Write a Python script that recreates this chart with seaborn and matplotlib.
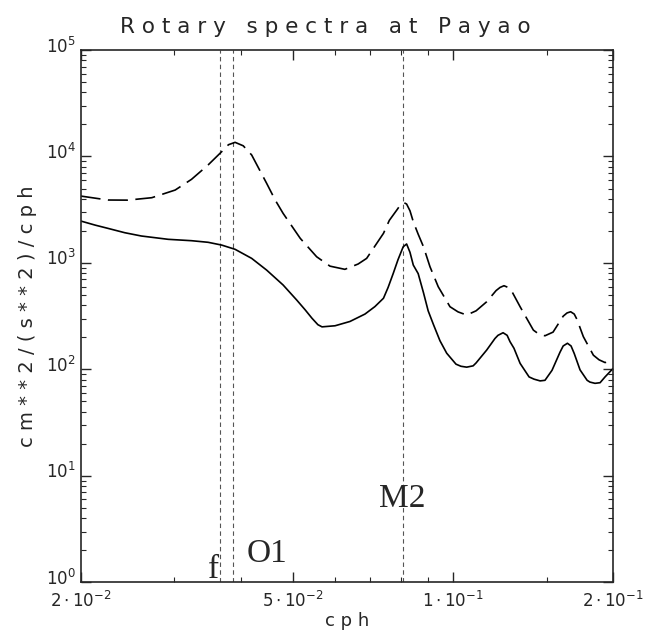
import numpy as np
import pandas as pd
import matplotlib
matplotlib.use("Agg")
import matplotlib.pyplot as plt
import matplotlib.ticker as mticker
import matplotlib.transforms as mtransforms
import seaborn as sns

# ---- data ----
dash_freq = [0.0200, 0.0225, 0.0245, 0.0272, 0.0301, 0.0323, 0.0347, 0.0368, 0.0379,
             0.0390, 0.0404, 0.0419, 0.0447, 0.0464, 0.0480, 0.0517, 0.0555, 0.0588,
             0.0627, 0.0664, 0.0689, 0.0741, 0.0760, 0.0785, 0.0796, 0.0810, 0.0819,
             0.0831, 0.0843, 0.0861, 0.0881, 0.0906, 0.0939, 0.0988, 0.1023, 0.1062,
             0.1106, 0.1158, 0.1206, 0.1227, 0.1248, 0.1270, 0.1292, 0.1338, 0.1417,
             0.1452, 0.1490, 0.1543, 0.1612, 0.1639, 0.1665, 0.1691, 0.1711, 0.1759,
             0.1837, 0.1883, 0.1932, 0.1974, 0.2000]
dash_psd = [4250, 3900, 3890, 4100, 4840, 6100, 8320, 11090, 12900,
            13580, 12600, 10330, 5600, 3890, 2924, 1702, 1143, 933,
            871, 977, 1104, 1897, 2512, 3141, 3467, 3681, 3573,
            3090, 2438, 1862, 1419, 923, 598, 388, 347, 324,
            355, 432, 550, 589, 611, 589, 537, 388, 234,
            214, 207, 224, 316, 339, 348, 331, 295, 203,
            136, 123, 116, 119, 124]

solid_freq = [0.0200, 0.0213, 0.0225, 0.0242, 0.0260, 0.0292, 0.0323, 0.0347, 0.0368,
              0.0390, 0.0419, 0.0447, 0.0480, 0.0509, 0.0528, 0.0544, 0.0558, 0.0568,
              0.0601, 0.0641, 0.0684, 0.0714, 0.0741, 0.0756, 0.0773, 0.0789, 0.0807,
              0.0819, 0.0831, 0.0843, 0.0861, 0.0881, 0.0899, 0.0920, 0.0946, 0.0974,
              0.1014, 0.1036, 0.1062, 0.1092, 0.1106, 0.1158, 0.1200, 0.1216, 0.1243,
              0.1265, 0.1281, 0.1303, 0.1338, 0.1391, 0.1421, 0.1459, 0.1490, 0.1536,
              0.1590, 0.1612, 0.1642, 0.1668, 0.1691, 0.1734, 0.1788, 0.1810, 0.1850,
              0.1891, 0.1932, 0.2000]
solid_psd = [2477, 2265, 2113, 1923, 1791, 1667, 1618, 1563, 1472,
             1343, 1104, 857, 621, 449, 363, 302, 263, 251,
             257, 282, 331, 389, 466, 589, 798, 1072, 1419,
             1507, 1259, 955, 794, 525, 355, 263, 186, 142,
             112, 107, 105, 108, 115, 152, 195, 209, 221,
             209, 182, 158, 114, 85, 81, 78, 79, 98,
             145, 166, 176, 166, 141, 99, 79, 76, 74,
             75, 85, 102]

line_names = ["f", "O1", "M2"]
line_freqs = [0.03654, 0.0387, 0.0805]
label_x = [0.03546, 0.0448, 0.0805]
label_y = [1.097, 1.55, 5.1]

xtick_vals = [0.02, 0.05, 0.1, 0.2]
xtick_labels = [r"$2\cdot10^{-2}$", r"$5\cdot10^{-2}$", r"$1\cdot10^{-1}$", r"$2\cdot10^{-1}$"]
ytick_vals = [1e0, 1e1, 1e2, 1e3, 1e4, 1e5]
ytick_labels = [r"$10^{0}$", r"$10^{1}$", r"$10^{2}$", r"$10^{3}$", r"$10^{4}$", r"$10^{5}$"]

sns.set_style("ticks")
plt.rcParams["font.family"] = ["DejaVu Sans"]

fig = plt.figure(figsize=(6.47, 6.34), dpi=100)
ax = fig.add_axes([0.1247, 0.0815, 0.8228, 0.8396])

df_d = pd.DataFrame({"cph": dash_freq, "psd": dash_psd})
df_s = pd.DataFrame({"cph": solid_freq, "psd": solid_psd})

sns.lineplot(data=df_s, x="cph", y="psd", ax=ax, color="black", linewidth=1.2, sort=True)
sns.lineplot(data=df_d, x="cph", y="psd", ax=ax, color="black", linewidth=1.2, sort=True)
ax.lines[-1].set_dashes((12, 4.5))

for fr in line_freqs:
    ax.axvline(fr, color="#555555", linewidth=0.8, linestyle=(0, (4, 3)), zorder=1)

ax.set_xscale("log")
ax.set_yscale("log")
ax.set_xlim(0.02, 0.2)
ax.set_ylim(1, 1e5)

ax.xaxis.set_major_locator(mticker.FixedLocator(xtick_vals))
ax.xaxis.set_major_formatter(mticker.FixedFormatter(xtick_labels))
ax.xaxis.set_minor_locator(mticker.FixedLocator([0.03, 0.04, 0.06, 0.07, 0.08, 0.09,
                                                 0.15]))
ax.xaxis.set_minor_formatter(mticker.NullFormatter())
ax.yaxis.set_major_locator(mticker.FixedLocator(ytick_vals))
ax.yaxis.set_major_formatter(mticker.FixedFormatter(ytick_labels))
ax.yaxis.set_minor_locator(mticker.LogLocator(base=10, subs=np.arange(2, 10), numticks=20))
ax.yaxis.set_minor_formatter(mticker.NullFormatter())

ax.tick_params(which="both", direction="in", top=True, right=True, labelsize=12)
ax.tick_params(which="major", length=7, width=1)
ax.tick_params(which="minor", length=3.5, width=0.8)
ax.tick_params(axis="x", pad=6)
for sp in ax.spines.values():
    sp.set_linewidth(1.2)
    sp.set_visible(True)

offset = mtransforms.ScaledTranslation(0, 4 / 72, fig.dpi_scale_trans)
for t in ax.yaxis.get_major_ticks():
    t.label1.set_transform(t.label1.get_transform() + offset)

ax.set_xlabel("c p h", fontsize=13, labelpad=1)
ax.set_ylabel("c m * * 2 / ( s * * 2 ) / c p h", fontsize=14, labelpad=6)
ax.set_title("R o t a r y   s p e c t r a   a t   P a y a o", fontsize=15.5, pad=12, x=0.459)

for name, lx, ly in zip(line_names, label_x, label_y):
    ax.text(lx, ly, name, fontsize=24, family="Liberation Serif", ha="center", va="baseline")

fig.savefig("out.png", dpi=100)
